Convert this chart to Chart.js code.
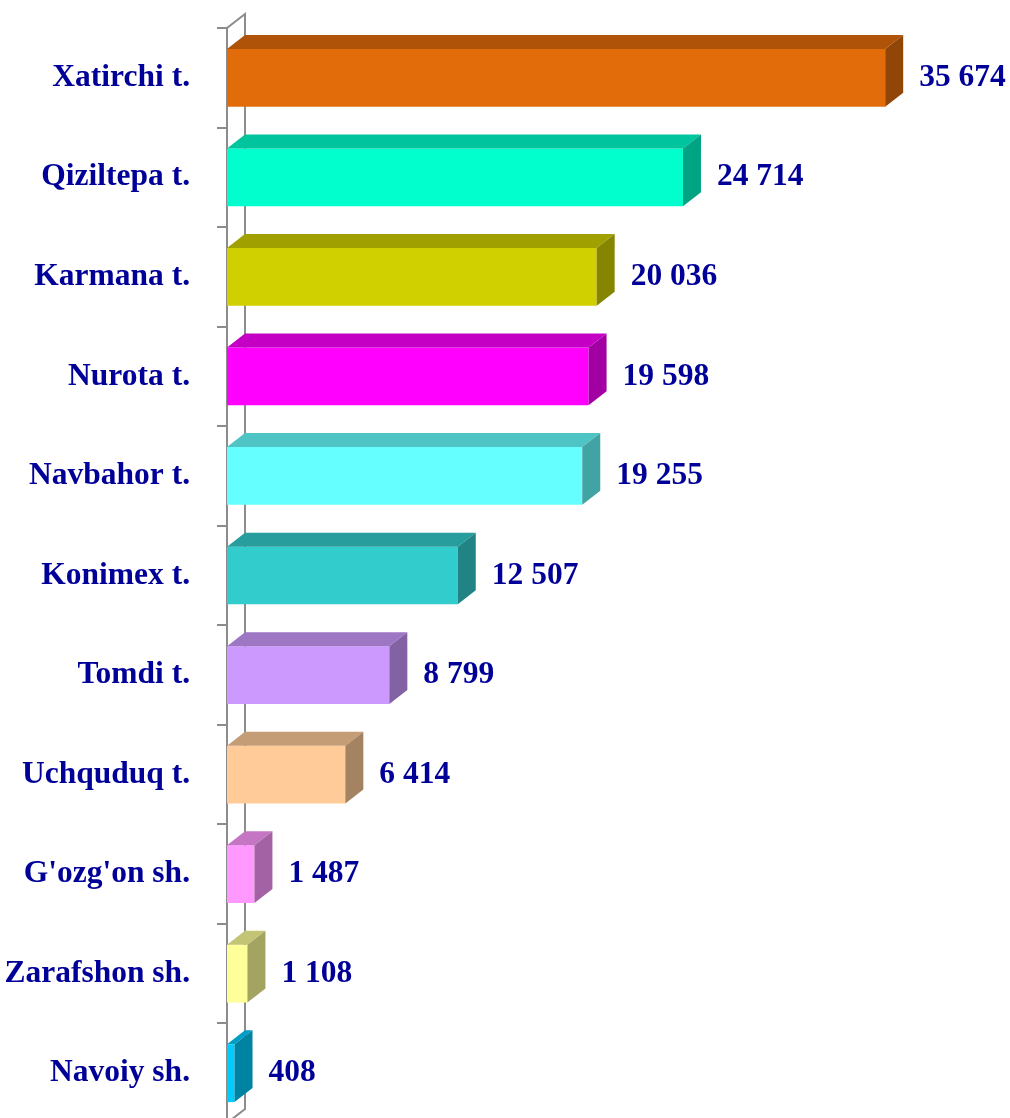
<!DOCTYPE html>
<html>
<head>
<meta charset="utf-8">
<script src="https://cdn.jsdelivr.net/npm/chart.js@4/dist/chart.umd.min.js"></script>
<style>
  html, body { margin: 0; padding: 0; background: #fff; overflow: hidden; }
  #wrap { width: 1010px; height: 1123px; }
</style>
</head>
<body>
<div id="wrap"><canvas id="districtChart"></canvas></div>
<script>
// Districts and values
const districts = [
  "Xatirchi t.", "Qiziltepa t.", "Karmana t.", "Nurota t.", "Navbahor t.",
  "Konimex t.", "Tomdi t.", "Uchquduq t.", "G'ozg'on sh.", "Zarafshon sh.", "Navoiy sh."
];
const values = [35674, 24714, 20036, 19598, 19255, 12507, 8799, 6414, 1487, 1108, 408];

const frontColors = [
  "#E36C0A", "#00FFCC", "#D0D000", "#FF00FF", "#66FFFF",
  "#33CCCC", "#CC99FF", "#FFCC99", "#FF99FF", "#FFFF99", "#00CCFF"
];

const textColor = "#000099";
const labelFont = "bold 31.5px 'Liberation Serif', 'Times New Roman', serif";
const DX = 18, DY = 14; // depth of the 3d boxes

function shade(hex, f) {
  const n = parseInt(hex.slice(1), 16);
  const r = Math.round(((n >> 16) & 255) * f);
  const g = Math.round(((n >> 8) & 255) * f);
  const b = Math.round((n & 255) * f);
  return `rgb(${r},${g},${b})`;
}

function fmt(v) {
  return String(v).replace(/\B(?=(\d{3})+(?!\d))/g, " ");
}

// back wall, tick marks and category names, drawn behind the bars
const wall = {
  id: "wall",
  beforeDatasetsDraw(chart) {
    const { ctx, chartArea: a, scales } = chart;
    ctx.save();
    ctx.strokeStyle = "#8c8c8c";
    ctx.lineWidth = 2;
    ctx.beginPath();
    ctx.moveTo(a.left, a.bottom);
    ctx.lineTo(a.left, a.top);
    ctx.lineTo(a.left + DX, a.top - DY);
    ctx.lineTo(a.left + DX, a.bottom - DY);
    ctx.lineTo(a.left, a.bottom);
    ctx.stroke();
    const step = (a.bottom - a.top) / districts.length;
    ctx.beginPath();
    for (let i = 0; i <= districts.length; i++) {
      const y = Math.round(a.top + step * i);
      ctx.moveTo(a.left - 10, y);
      ctx.lineTo(a.left, y);
    }
    ctx.stroke();

    ctx.fillStyle = textColor;
    ctx.font = labelFont;
    ctx.textAlign = "right";
    ctx.textBaseline = "middle";
    districts.forEach((name, i) => {
      ctx.fillText(name, a.left - 37, scales.y.getPixelForValue(i));
    });
    ctx.restore();
  }
};

// top and side faces, then value labels
const boxes = {
  id: "boxes",
  afterDatasetsDraw(chart) {
    const { ctx } = chart;
    const meta = chart.getDatasetMeta(0);
    ctx.save();
    meta.data.forEach((bar, i) => {
      const p = bar.getProps(["x", "y", "base", "height"], true);
      const top = p.y - p.height / 2, bottom = p.y + p.height / 2;
      ctx.fillStyle = shade(frontColors[i], 0.77);
      ctx.beginPath();
      ctx.moveTo(p.base, top);
      ctx.lineTo(p.base + DX, top - DY);
      ctx.lineTo(p.x + DX, top - DY);
      ctx.lineTo(p.x, top);
      ctx.closePath();
      ctx.fill();
      ctx.fillStyle = shade(frontColors[i], 0.64);
      ctx.beginPath();
      ctx.moveTo(p.x, top);
      ctx.lineTo(p.x + DX, top - DY);
      ctx.lineTo(p.x + DX, bottom - DY);
      ctx.lineTo(p.x, bottom);
      ctx.closePath();
      ctx.fill();

      ctx.fillStyle = textColor;
      ctx.font = labelFont;
      ctx.textAlign = "left";
      ctx.textBaseline = "middle";
      ctx.fillText(fmt(values[i]), p.x + DX + 16, p.y);
    });
    ctx.restore();
  }
};

new Chart(document.getElementById("districtChart"), {
  type: "bar",
  data: {
    labels: districts,
    datasets: [{
      data: values,
      backgroundColor: frontColors,
      borderWidth: 0,
      barPercentage: 0.58,
      categoryPercentage: 1
    }]
  },
  options: {
    indexAxis: "y",
    responsive: true,
    maintainAspectRatio: false,
    animation: false,
    layout: { padding: { top: 28, right: 45, bottom: 0, left: 227 } },
    plugins: { legend: { display: false }, tooltip: { enabled: false } },
    scales: {
      x: { display: false, min: 0, max: 40000 },
      y: { display: false }
    }
  },
  plugins: [wall, boxes]
});
</script>
</body>
</html>
